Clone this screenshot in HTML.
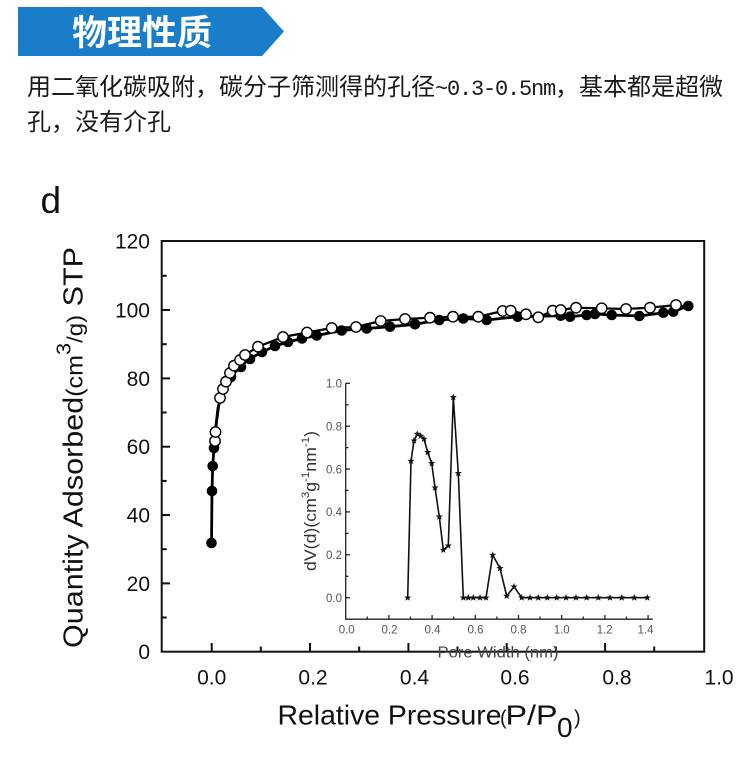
<!DOCTYPE html>
<html><head><meta charset="utf-8"><style>
html,body{margin:0;padding:0;background:#fff;}
svg{display:block;}
</style></head><body>
<svg width="750" height="770" viewBox="0 0 750 770" xmlns="http://www.w3.org/2000/svg">
<defs>
<path id="st" d="M0,-3.8 L0.9,-1.25 L3.6,-1.15 L1.5,0.48 L2.25,3.05 L0,1.55 L-2.25,3.05 L-1.5,0.48 L-3.6,-1.15 L-0.9,-1.25Z" fill="#111"/>
</defs>
<rect width="750" height="770" fill="#fff"/>
<!-- banner -->
<polygon points="18,7 262,7 284,31.5 262,56 18,56" fill="#1a7dc9"/>
<text x="72" y="45" font-size="35" font-weight="bold" fill="#fff" font-family="'Liberation Sans','Noto Sans CJK SC',sans-serif">物理性质</text>
<!-- body text -->
<text x="27" y="95" font-size="24" fill="#1a1a1a" font-family="'Liberation Sans','Noto Sans CJK SC',sans-serif">用二氧化碳吸附，碳分子筛测得的孔径<tspan font-family="'Liberation Mono','Noto Sans CJK SC',monospace" font-size="22" letter-spacing="-1.2">~0.3-0.5nm</tspan>，基本都是超微</text>
<text x="27" y="130" font-size="24" fill="#1a1a1a" font-family="'Liberation Sans','Noto Sans CJK SC',sans-serif">孔，没有介孔</text>

<!-- d label -->
<text x="40.5" y="213" font-size="37" fill="#111" font-family="'Liberation Sans',sans-serif">d</text>

<g font-family="'Liberation Sans',sans-serif" fill="#111">
<!-- main frame -->
<rect x="161.7" y="241" width="542.5" height="410.7" fill="none" stroke="#111" stroke-width="2"/>
<!-- x ticks -->
<g stroke="#111" stroke-width="2">
<line x1="211.7" y1="651.7" x2="211.7" y2="643"/>
<line x1="310" y1="651.7" x2="310" y2="643"/>
<line x1="408.4" y1="651.7" x2="408.4" y2="643"/>
<line x1="506.7" y1="651.7" x2="506.7" y2="643"/>
<line x1="605.1" y1="651.7" x2="605.1" y2="643"/>
<line x1="260.8" y1="651.7" x2="260.8" y2="646.5"/>
<line x1="359.2" y1="651.7" x2="359.2" y2="646.5"/>
<line x1="457.5" y1="651.7" x2="457.5" y2="646.5"/>
<line x1="555.9" y1="651.7" x2="555.9" y2="646.5"/>
<line x1="654.2" y1="651.7" x2="654.2" y2="646.5"/>
<!-- y ticks -->
<line x1="161.7" y1="583.4" x2="170" y2="583.4"/>
<line x1="161.7" y1="515" x2="170" y2="515"/>
<line x1="161.7" y1="446.7" x2="170" y2="446.7"/>
<line x1="161.7" y1="378.4" x2="170" y2="378.4"/>
<line x1="161.7" y1="310" x2="170" y2="310"/>
<line x1="161.7" y1="617.5" x2="166.7" y2="617.5"/>
<line x1="161.7" y1="549.2" x2="166.7" y2="549.2"/>
<line x1="161.7" y1="480.9" x2="166.7" y2="480.9"/>
<line x1="161.7" y1="412.5" x2="166.7" y2="412.5"/>
<line x1="161.7" y1="344.2" x2="166.7" y2="344.2"/>
<line x1="161.7" y1="275.8" x2="166.7" y2="275.8"/>
</g>
<!-- y tick labels -->
<g font-size="21" text-anchor="end">
<text x="150" y="248.5">120</text>
<text x="150" y="317.5">100</text>
<text x="150" y="385.9">80</text>
<text x="150" y="454.2">60</text>
<text x="150" y="522.5">40</text>
<text x="150" y="590.9">20</text>
<text x="150" y="659.2">0</text>
</g>
<!-- x tick labels -->
<g font-size="21" text-anchor="middle">
<text x="211.7" y="684.5">0.0</text>
<text x="313" y="684.5">0.2</text>
<text x="414.5" y="684.5">0.4</text>
<text x="515" y="684.5">0.6</text>
<text x="617" y="684.5">0.8</text>
<text x="719" y="684.5">1.0</text>
</g>
<!-- x label -->
<text x="277.5" y="724.3" font-size="28" textLength="224" lengthAdjust="spacingAndGlyphs">Relative Pressure</text>
<text x="500" y="724.3" font-size="20">(</text>
<text x="505.5" y="724.3" font-size="28" textLength="52" lengthAdjust="spacingAndGlyphs">P/P</text>
<text x="557" y="737" font-size="28">0</text>
<text x="574" y="724.3" font-size="20">)</text>
<!-- y label -->
<g transform="translate(82.3,648) rotate(-90)">
<text x="0" y="0" font-size="28" textLength="401" lengthAdjust="spacingAndGlyphs">Quantity Adsorbed<tspan font-size="23">(cm</tspan><tspan font-size="20" dy="-12">3</tspan><tspan font-size="22" dy="12">/g)</tspan> STP</text>
</g>
</g>

<!-- main series: adsorption (filled) -->
<polyline fill="none" stroke="#000" stroke-width="2.8" stroke-linejoin="round" points="211.5,543 212,491 212.7,466 214,448 216,425 218,408 221,396 225,387 231,377 239,368 248,360 260,353 275,346 288,342 302,338.5 316.7,335.5 341.7,330.5 366.7,328.5 390,326.7 415,324.3 439.3,320 463.3,318.5 486.7,320 517.7,316.7 560.7,315.7 570,316.7 586.7,315 595,314 611.7,315 639.3,316 663.3,312.7 673.3,311.7 688.3,306"/>
<g fill="#000">
<circle cx="211.5" cy="543" r="5.3"/><circle cx="212" cy="491" r="5.3"/><circle cx="212.7" cy="466" r="5.3"/><circle cx="214" cy="448" r="5.3"/>
<circle cx="231" cy="377" r="5.3"/><circle cx="241" cy="367" r="5.3"/><circle cx="250" cy="359" r="5.3"/><circle cx="262" cy="352" r="5.3"/>
<circle cx="275" cy="346" r="5.3"/><circle cx="288" cy="342" r="5.3"/><circle cx="302" cy="338.5" r="5.3"/><circle cx="316.7" cy="335.5" r="5.3"/>
<circle cx="341.7" cy="330.5" r="5.3"/><circle cx="366.7" cy="328.5" r="5.3"/><circle cx="390" cy="326.7" r="5.3"/><circle cx="415" cy="324.3" r="5.3"/>
<circle cx="439.3" cy="320" r="5.3"/><circle cx="463.3" cy="318.5" r="5.3"/><circle cx="486.7" cy="320" r="5.3"/><circle cx="517.7" cy="316.7" r="5.3"/>
<circle cx="560.7" cy="315.7" r="5.3"/><circle cx="570" cy="316.7" r="5.3"/><circle cx="586.7" cy="315" r="5.3"/><circle cx="595" cy="314" r="5.3"/>
<circle cx="611.7" cy="315" r="5.3"/><circle cx="639.3" cy="316" r="5.3"/><circle cx="663.3" cy="312.7" r="5.3"/><circle cx="673.3" cy="311.7" r="5.3"/>
<circle cx="688.3" cy="306" r="5.3"/>
</g>
<!-- desorption (open) -->
<polyline fill="none" stroke="#000" stroke-width="2.2" stroke-linejoin="round" points="215,441 215.5,432 220,398 223,389 226,381.7 230,373 234,365.7 240,360 245,355 258,346.7 283,337 307,332.5 331.7,328 356,327 380.7,321 405,319 430,317.7 453,316.7 478.3,316.7 502.7,311 510.7,310.7 526,314.3 538.3,317.3 552.7,310.7 560.7,310 576,307.7 601.7,308.3 626,309 650,307.7 676,305 685,306.5"/>
<g fill="#fff" stroke="#000" stroke-width="1.4">
<circle cx="215" cy="441" r="5.2"/><circle cx="215.5" cy="432" r="5.2"/><circle cx="220" cy="398" r="5.2"/><circle cx="223" cy="389" r="5.2"/>
<circle cx="226" cy="381.7" r="5.2"/><circle cx="230" cy="373" r="5.2"/><circle cx="234" cy="365.7" r="5.2"/><circle cx="240" cy="360" r="5.2"/>
<circle cx="245" cy="355" r="5.2"/><circle cx="258" cy="346.7" r="5.2"/><circle cx="283" cy="337" r="5.2"/><circle cx="307" cy="332.5" r="5.2"/>
<circle cx="331.7" cy="328" r="5.2"/><circle cx="356" cy="327" r="5.2"/><circle cx="380.7" cy="321" r="5.2"/><circle cx="405" cy="319" r="5.2"/>
<circle cx="430" cy="317.7" r="5.2"/><circle cx="453" cy="316.7" r="5.2"/><circle cx="478.3" cy="316.7" r="5.2"/><circle cx="502.7" cy="311" r="5.2"/>
<circle cx="510.7" cy="310.7" r="5.2"/><circle cx="526" cy="314.3" r="5.2"/><circle cx="538.3" cy="317.3" r="5.2"/><circle cx="552.7" cy="310.7" r="5.2"/>
<circle cx="560.7" cy="310" r="5.2"/><circle cx="576" cy="307.7" r="5.2"/><circle cx="601.7" cy="308.3" r="5.2"/><circle cx="626" cy="309" r="5.2"/>
<circle cx="650" cy="307.7" r="5.2"/><circle cx="676" cy="305" r="5.2"/>
</g>

<!-- inset axes -->
<g stroke="#222" stroke-width="1.3" fill="none">
<polyline points="345.7,383.3 345.7,619.2 652.7,619.2"/>
<line x1="345.7" y1="383.3" x2="350" y2="383.3"/>
<line x1="345.7" y1="426.2" x2="350" y2="426.2"/>
<line x1="345.7" y1="469.1" x2="350" y2="469.1"/>
<line x1="345.7" y1="511.9" x2="350" y2="511.9"/>
<line x1="345.7" y1="554.8" x2="350" y2="554.8"/>
<line x1="345.7" y1="597.7" x2="350" y2="597.7"/>
<line x1="345.7" y1="404.8" x2="348.5" y2="404.8"/>
<line x1="345.7" y1="447.6" x2="348.5" y2="447.6"/>
<line x1="345.7" y1="490.5" x2="348.5" y2="490.5"/>
<line x1="345.7" y1="533.4" x2="348.5" y2="533.4"/>
<line x1="345.7" y1="576.3" x2="348.5" y2="576.3"/>
<line x1="388.9" y1="619.2" x2="388.9" y2="615"/>
<line x1="432.1" y1="619.2" x2="432.1" y2="615"/>
<line x1="475.3" y1="619.2" x2="475.3" y2="615"/>
<line x1="518.5" y1="619.2" x2="518.5" y2="615"/>
<line x1="561.7" y1="619.2" x2="561.7" y2="615"/>
<line x1="604.9" y1="619.2" x2="604.9" y2="615"/>
<line x1="648.1" y1="619.2" x2="648.1" y2="615"/>
<line x1="367.3" y1="619.2" x2="367.3" y2="616.5"/>
<line x1="410.5" y1="619.2" x2="410.5" y2="616.5"/>
<line x1="453.7" y1="619.2" x2="453.7" y2="616.5"/>
<line x1="496.9" y1="619.2" x2="496.9" y2="616.5"/>
<line x1="540.1" y1="619.2" x2="540.1" y2="616.5"/>
<line x1="583.3" y1="619.2" x2="583.3" y2="616.5"/>
<line x1="626.5" y1="619.2" x2="626.5" y2="616.5"/>
</g>
<g font-family="'Liberation Sans',sans-serif" font-size="11.5" fill="#555">
<g text-anchor="end">
<text x="342" y="387.5">1.0</text>
<text x="342" y="430.4">0.8</text>
<text x="342" y="473.3">0.6</text>
<text x="342" y="516.1">0.4</text>
<text x="342" y="559">0.2</text>
<text x="342" y="601.9">0.0</text>
</g>
<g text-anchor="middle">
<text x="346.7" y="633.5">0.0</text>
<text x="389.5" y="633.5">0.2</text>
<text x="432.5" y="633.5">0.4</text>
<text x="475.5" y="633.5">0.6</text>
<text x="518.5" y="633.5">0.8</text>
<text x="561.7" y="633.5">1.0</text>
<text x="604.7" y="633.5">1.2</text>
<text x="645.5" y="633.5">1.4</text>
</g>
<text x="437.5" y="657.5" font-size="16" fill="#444" textLength="121" lengthAdjust="spacingAndGlyphs">Pore Width (nm)</text>
<g transform="translate(316,571) rotate(-90)" fill="#333">
<text x="0" y="0" font-size="17" textLength="140" lengthAdjust="spacingAndGlyphs">dV(d)(cm<tspan dy="-7" font-size="11">3</tspan><tspan dy="7">g</tspan><tspan dy="-7" font-size="11">-1</tspan><tspan dy="7">nm</tspan><tspan dy="-7" font-size="11">-1</tspan><tspan dy="7">)</tspan></text>
</g>
</g>
<!-- inset series -->
<polyline fill="none" stroke="#111" stroke-width="1.6" stroke-linejoin="round" points="407.7,597.7 411,461 414,440.7 417.3,434 420.7,436 424,439 427.7,452.3 431.7,463.3 435,487.7 439.3,516.7 443.3,550 448.3,545.7 453.3,397.3 458.3,473.3 463.3,597.7 468.3,597.7 473.3,597.7 480,597.7 486,597.7 492.7,555 500,568.3 506.7,596 514,586.7 521.7,597.7 530,597.7 538.3,597.7 547.3,597.7 556.7,597.7 566,597.7 576,597.7 586.7,597.7 598.3,597.7 610,597.7 621.7,597.7 634.3,597.7 647.3,597.7"/>
<g>
<use href="#st" x="407.7" y="597.7"/><use href="#st" x="411" y="461"/><use href="#st" x="414" y="440.7"/><use href="#st" x="417.3" y="434"/>
<use href="#st" x="420.7" y="436"/><use href="#st" x="424" y="439"/><use href="#st" x="427.7" y="452.3"/><use href="#st" x="431.7" y="463.3"/>
<use href="#st" x="435" y="487.7"/><use href="#st" x="439.3" y="516.7"/><use href="#st" x="443.3" y="550"/><use href="#st" x="448.3" y="545.7"/>
<use href="#st" x="453.3" y="397.3"/><use href="#st" x="458.3" y="473.3"/><use href="#st" x="463.3" y="597.7"/><use href="#st" x="468.3" y="597.7"/>
<use href="#st" x="473.3" y="597.7"/><use href="#st" x="480" y="597.7"/><use href="#st" x="486" y="597.7"/><use href="#st" x="492.7" y="555"/>
<use href="#st" x="500" y="568.3"/><use href="#st" x="506.7" y="596"/><use href="#st" x="514" y="586.7"/><use href="#st" x="521.7" y="597.7"/>
<use href="#st" x="530" y="597.7"/><use href="#st" x="538.3" y="597.7"/><use href="#st" x="547.3" y="597.7"/><use href="#st" x="556.7" y="597.7"/>
<use href="#st" x="566" y="597.7"/><use href="#st" x="576" y="597.7"/><use href="#st" x="586.7" y="597.7"/><use href="#st" x="598.3" y="597.7"/>
<use href="#st" x="610" y="597.7"/><use href="#st" x="621.7" y="597.7"/><use href="#st" x="634.3" y="597.7"/><use href="#st" x="647.3" y="597.7"/>
</g>
</svg>
</body></html>
